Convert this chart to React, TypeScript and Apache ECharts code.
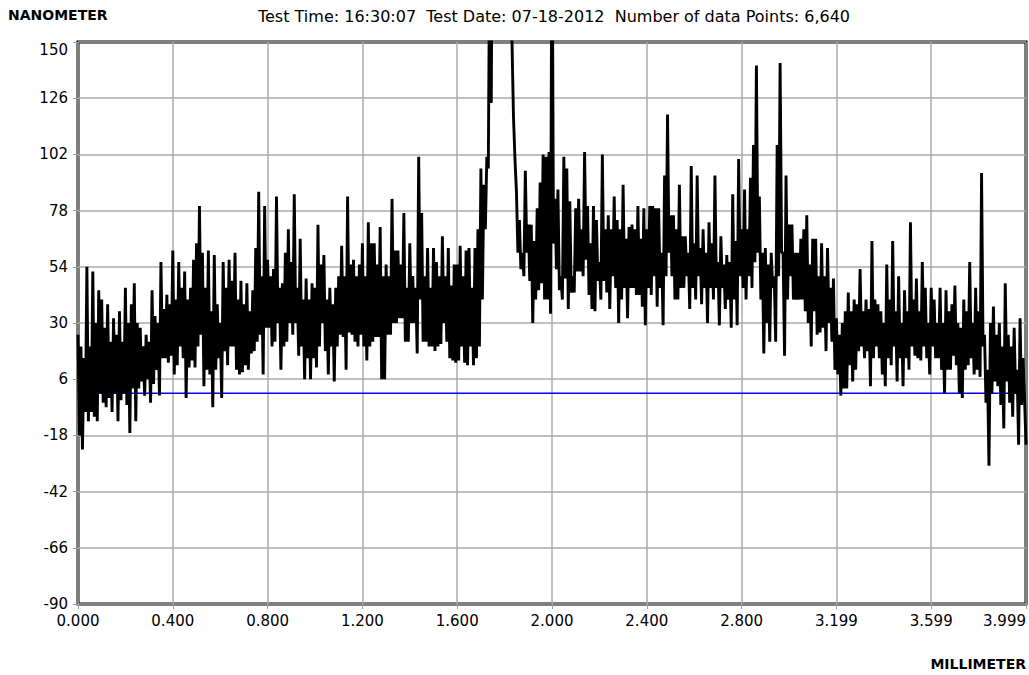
import React, { useEffect, useRef } from "react";
import * as echarts from "echarts";

// Surface profile, heights in nanometres, sampled uniformly along the scan.
// Each array covers one 0.4 mm grid cell (64 samples, written as crest/trough pairs);
// the last value closes the scan.
const trace0 = [25, -18, 20, -24, 15, -8, 54, -12, 20, -8, 52, -10, 30, -12, 44, 0, 40, -4, 28, -6, 38, -2, 22, -8, 32, 0, 25, -12, 35, -3, 22, 0, 45, -5, 30, -17, 38, 2, 47, -12, 30, 2, 28, 5, 20, -1, 25, 6, 22, -4, 44, 4, 33, 10, 30, -1, 56, 15, 36, 15, 42, 13, 38, 16];
const trace1 = [61, 8, 40, 12, 56, 20, 45, 15, 52, -2, 40, 11, 45, 14, 57, 11, 64, 20, 80, 25, 60, 3, 45, 10, 61, 8, 35, -6, 59, 10, 38, 15, 30, -2, 56, 18, 45, 12, 57, 20, 48, 20, 60, 10, 40, 8, 48, 9, 38, 12, 47, 10, 35, 17, 44, 18, 62, 22, 86, 25, 50, 8, 80, 28];
const trace2 = [57, 28, 50, 20, 53, 22, 84, 30, 45, 10, 47, 20, 60, 22, 70, 30, 56, 25, 85, 30, 45, 16, 66, 20, 40, 6, 49, 15, 40, 6, 47, 15, 45, 11, 72, 20, 55, 30, 59, 18, 40, 8, 45, 20, 38, 5, 45, 20, 50, 25, 63, 24, 50, 10, 84, 26, 55, 25, 57, 22, 50, 20, 55, 25];
const trace3 = [64, 20, 50, 14, 73, 20, 64, 22, 64, 24, 55, 24, 71, 6, 50, 6, 55, 25, 50, 25, 83, 30, 61, 30, 61, 32, 55, 32, 77, 22, 45, 22, 64, 30, 50, 30, 45, 17, 101, 40, 77, 22, 50, 22, 62, 20, 45, 20, 62, 18, 56, 20, 50, 21, 67, 30, 50, 22, 62, 15, 46, 14, 55, 13];
const trace4 = [55, 14, 63, 20, 50, 13, 61, 12, 62, 20, 45, 12, 62, 15, 70, 20, 96, 40, 89, 70, 101, 96, 200, 124, 260, 250, 280, 270, 290, 280, 280, 270, 260, 250, 230, 220, 160, 150, 118, 100, 86, 60, 74, 53, 60, 50, 95, 60, 72, 48, 72, 30, 65, 40, 79, 44, 90, 47, 102, 40, 101, 40, 103, 34];
const trace5 = [220, 64, 83, 53, 87, 44, 50, 40, 101, 49, 96, 36, 82, 43, 50, 43, 79, 52, 83, 52, 70, 50, 103, 57, 80, 42, 64, 36, 80, 35, 74, 48, 56, 40, 102, 48, 70, 43, 76, 36, 70, 50, 84, 45, 74, 30, 70, 40, 89, 45, 66, 32, 71, 45, 72, 45, 70, 42, 80, 42, 66, 37, 79, 29];
const trace6 = [70, 45, 80, 42, 80, 50, 79, 37, 79, 45, 60, 29, 93, 50, 119, 60, 76, 50, 76, 40, 70, 40, 89, 45, 67, 45, 67, 50, 60, 36, 97, 45, 64, 40, 93, 50, 62, 38, 70, 45, 60, 30, 73, 45, 64, 40, 93, 45, 56, 29, 67, 45, 55, 36, 59, 40, 56, 28, 85, 40, 65, 29, 100, 50];
const trace7 = [70, 45, 87, 40, 70, 50, 92, 45, 106, 56, 140, 60, 84, 40, 60, 17, 62, 30, 55, 22, 60, 45, 50, 22, 106, 50, 141, 60, 60, 16, 93, 40, 72, 50, 72, 40, 60, 40, 60, 40, 66, 40, 70, 35, 76, 30, 55, 20, 66, 35, 66, 25, 50, 26, 64, 28, 50, 18, 62, 30, 45, 22, 49, 10];
const trace8 = [32, 8, 25, -1, 30, 2, 35, 2, 43, 12, 35, 5, 40, 10, 38, 18, 53, 20, 35, 15, 40, 18, 36, 3, 65, 15, 40, 20, 38, 15, 35, 8, 30, 3, 55, 15, 40, 12, 65, 20, 35, 5, 50, 15, 30, 3, 44, 15, 35, 10, 73, 20, 40, 16, 49, 15, 35, 14, 56, 20, 45, 15, 30, 8];
const trace9 = [45, 20, 40, 15, 30, 15, 45, 10, 30, 0, 44, 10, 35, 10, 38, 16, 46, 12, 30, 0, 28, -2, 40, 10, 35, 12, 56, 15, 30, 8, 45, 10, 35, 7, 94, 20, 25, -4, 10, -31, 30, 0, 37, 5, 25, 3, 30, -5, 20, -15, 47, 5, 25, -4, 20, -10, 28, 0, 10, -22, 32, -5, 15, -2];
const traceEnd = [-22];

// Reference (mean) level drawn in blue
const referenceLevel = 0;

// Axes
const scanLength = 3.9993; // mm
const xTickLabels = ["0.000", "0.400", "0.800", "1.200", "1.600", "2.000", "2.400", "2.800", "3.199", "3.599", "3.999"];
const yMin = -90;
const yMax = 150;
const yStep = 24;

const headerText = "Test Time: 16:30:07  Test Date: 07-18-2012  Number of data Points: 6,640";

const FONT = "DejaVu Sans";

export default function App() {
  const ref = useRef<HTMLDivElement>(null);

  useEffect(() => {
    if (!ref.current) return;
    const chart = echarts.init(ref.current, undefined, { renderer: "svg" });

    const heights = [
      ...trace0, ...trace1, ...trace2, ...trace3, ...trace4,
      ...trace5, ...trace6, ...trace7, ...trace8, ...trace9, ...traceEnd,
    ];
    const n = heights.length - 1;
    const xInterval = scanLength / (xTickLabels.length - 1);
    // The y axis runs from 0 so that ticks fall on multiples of the step;
    // labels are shifted back by yMin.
    const shift = -yMin;
    const traceData = heights.map((h, i) => [(i * scanLength) / n, h + shift]);
    const refData = [
      [0, referenceLevel + shift],
      [scanLength, referenceLevel + shift],
    ];

    chart.setOption({
      animation: false,
      backgroundColor: "#fff",
      textStyle: { fontFamily: FONT },
      grid: {
        left: 78,
        right: 3,
        top: 42,
        bottom: 71,
        show: true,
        borderColor: "#000",
        borderWidth: 3,
        backgroundColor: "transparent",
      },
      xAxis: {
        type: "value",
        min: 0,
        max: scanLength,
        interval: xInterval,
        axisLine: { show: false },
        axisTick: { show: true, length: 5, lineStyle: { color: "#a0a0a0", width: 1 } },
        splitLine: { show: true, lineStyle: { color: "#aaaaaa", width: 1.5 } },
        axisLabel: {
          color: "#000",
          fontFamily: FONT,
          fontSize: 15,
          margin: 9,
          alignMaxLabel: "right",
          formatter: (v: number) => xTickLabels[Math.round(v / xInterval)] ?? "",
        },
      },
      yAxis: {
        type: "value",
        min: 0,
        max: yMax - yMin,
        interval: yStep,
        axisLine: { show: false },
        axisTick: { show: true, length: 5, lineStyle: { color: "#a0a0a0", width: 1 } },
        splitLine: { show: true, lineStyle: { color: "#aaaaaa", width: 1.5 } },
        axisLabel: {
          color: "#000",
          fontFamily: FONT,
          fontSize: 15,
          margin: 10,
          verticalAlignMaxLabel: "top",
          formatter: (v: number) => String(Math.round(v - shift)),
        },
      },
      series: [
        {
          type: "line",
          data: refData,
          symbol: "none",
          silent: true,
          z: 2,
          lineStyle: { color: "#0000ff", width: 1.5 },
        },
        {
          type: "line",
          data: traceData,
          symbol: "none",
          silent: true,
          clip: true,
          z: 3,
          lineStyle: { color: "#000", width: 2.9 },
        },
      ],
      graphic: [
        {
          type: "text",
          left: 8,
          top: 8,
          style: { text: "NANOMETER", font: `bold 14px "${FONT}"`, fill: "#000" },
        },
        {
          type: "text",
          x: 554,
          y: 16,
          style: {
            text: headerText,
            font: `16px "${FONT}"`,
            fill: "#000",
            align: "center",
            verticalAlign: "middle",
          },
        },
        {
          type: "text",
          x: 1026,
          y: 664,
          style: {
            text: "MILLIMETER",
            font: `bold 14px "${FONT}"`,
            fill: "#000",
            align: "right",
            verticalAlign: "middle",
          },
        },
      ],
    });

    return () => chart.dispose();
  }, []);

  return (
    <div
      ref={ref}
      style={{ position: "fixed", left: 0, top: 0, width: 1029, height: 675 }}
    />
  );
}
